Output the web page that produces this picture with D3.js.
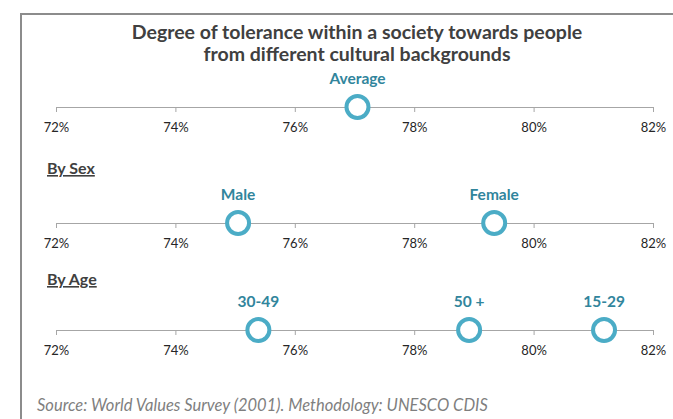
<!DOCTYPE html>
<html lang="en">
<head>
<meta charset="UTF-8">
<title>Degree of tolerance</title>
<script src="https://cdn.jsdelivr.net/npm/d3@7"></script>
<style>
    body { margin: 0; background: #fff; font-family: Lato, "Open Sans", sans-serif; }
    svg { display: block; }
    .axis path, .axis line { stroke: #a6a6a6; }
    .axis text { font-size: 13px; fill: #262626; font-family: Lato, sans-serif; }
</style>
</head>
<body>
<script>
    // data
    const titleLines = ["Degree of tolerance within a society towards people", "from different cultural backgrounds"];
    const tickValues = [0.72, 0.74, 0.76, 0.78, 0.80, 0.82];
    const averageData = [{ label: "Average", value: 0.7705 }];
    const sexData = [{ label: "Male", value: 0.7505 }, { label: "Female", value: 0.7934 }];
    const ageData = [{ label: "30-49", value: 0.7539 }, { label: "50 +", value: 0.7892 }, { label: "15-29", value: 0.8118 }];
    const sourceText = "Source: World Values Survey (2001). Methodology: UNESCO CDIS";

    const width = 673, height = 419;
    const svg = d3.select("body").append("svg").attr("width", width).attr("height", height);

    // frame (top and left border only visible)
    svg.append("path")
        .attr("d", "M21,419 V14 H673")
        .attr("fill", "none").attr("stroke", "#8c8c8c").attr("stroke-width", 2);

    svg.append("g").selectAll("text").data(titleLines).enter().append("text")
        .attr("x", 357).attr("y", (d, i) => 39 + i * 22)
        .attr("text-anchor", "middle")
        .attr("font-size", 19.5).attr("font-weight", "bold").attr("fill", "#404040")
        .text(d => d);

    const x = d3.scaleLinear().domain([0.72, 0.82]).range([56, 653]);

    const rows = [
        { data: averageData, axisY: 107, header: null },
        { data: sexData, axisY: 223, header: { text: "By Sex", y: 174 } },
        { data: ageData, axisY: 330, header: { text: "By Age", y: 285 } }
    ];

    rows.forEach(row => {
        if (row.header) {
            svg.append("text")
                .attr("x", 47).attr("y", row.header.y)
                .attr("font-size", 16).attr("font-weight", "bold").attr("fill", "#404040")
                .attr("text-decoration", "underline")
                .text(row.header.text);
        }

        const axis = svg.append("g").attr("class", "axis")
            .attr("transform", `translate(0,${row.axisY})`)
            .call(d3.axisBottom(x).tickValues(tickValues).tickSize(5).tickSizeOuter(0)
                .tickPadding(11).tickFormat(d3.format(".0%")));
        axis.select(".domain").attr("stroke-width", 1.2);

        const pts = svg.append("g").selectAll("g").data(row.data).enter().append("g")
            .attr("transform", d => `translate(${x(d.value)},${row.axisY})`);
        pts.append("circle")
            .attr("r", 11)
            .attr("fill", "#fff").attr("stroke", "#4bacc6").attr("stroke-width", 4);
        pts.append("text")
            .attr("y", -23)
            .attr("text-anchor", "middle")
            .attr("font-size", 15.5).attr("font-weight", "bold").attr("fill", "#31859c")
            .text(d => d.label);
    });

    svg.append("text")
        .attr("x", 37).attr("y", 411)
        .attr("font-size", 16.5).attr("font-style", "italic").attr("fill", "#7f7f7f")
        .text(sourceText);
</script>
</body>
</html>
